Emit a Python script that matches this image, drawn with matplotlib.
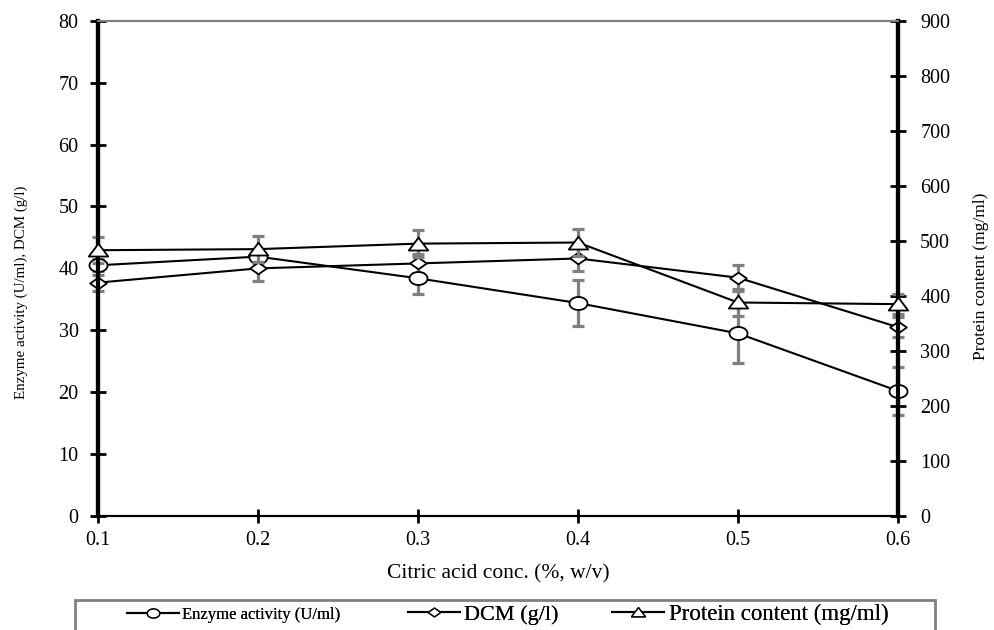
import matplotlib
matplotlib.use("Agg")
import matplotlib.pyplot as plt
from matplotlib.lines import Line2D
from matplotlib.patches import Rectangle
from matplotlib.path import Path
import numpy as np

plt.rcParams['font.family'] = ['Liberation Serif', 'DejaVu Serif']

citric = [0.1, 0.2, 0.3, 0.4, 0.5, 0.6]
enzyme = [40.5, 41.9, 38.4, 34.4, 29.5, 20.2]
enzyme_err = [1.0, 1.0, 2.6, 3.7, 4.8, 3.9]
dcm = [37.7, 40.0, 40.8, 41.6, 38.5, 30.5]
dcm_err = [1.3, 2.1, 1.5, 2.0, 2.1, 1.6]
protein = [483, 485, 495, 497, 388, 385]
protein_err = [24, 24, 25, 24, 24, 18]

x_ticks = [0.1, 0.2, 0.3, 0.4, 0.5, 0.6]
left_ticks = np.arange(0, 81, 10)
right_ticks = np.arange(0, 901, 100)
labels = ["Enzyme activity (U/ml)", "DCM (g/l)", "Protein content (mg/ml)"]

# the source figure is stretched sideways, so the markers are wider than tall
t = np.linspace(0, 2 * np.pi, 60)
ellipse = Path(np.column_stack([np.cos(t), 0.72 * np.sin(t)]))
diamond = Path([(0, 0.7), (1, 0), (0, -0.7), (-1, 0), (0, 0.7)], closed=True)
triangle = Path([(-1, -0.62), (1, -0.62), (0, 0.7), (-1, -0.62)], closed=True)

err_col = "#808080"
fig = plt.figure(figsize=(9.95, 6.3), dpi=100)
ax = fig.add_axes([0.0985, 0.181, 0.804, 0.786])
ax2 = ax.twinx()

eb = dict(fmt="none", ecolor=err_col, elinewidth=2.3, capsize=4.5, capthick=2.3, clip_on=False)
ax.errorbar(citric, enzyme, yerr=enzyme_err, **eb)
ax.errorbar(citric, dcm, yerr=dcm_err, **eb)
ax2.errorbar(citric, protein, yerr=protein_err, **eb)

ln = dict(color="black", lw=1.5, mfc="white", mec="black", mew=1.3, clip_on=False, zorder=5)
ax.plot(citric, enzyme, marker=ellipse, ms=13, **ln)
ax.plot(citric, dcm, marker=diamond, ms=12, **ln)
ax2.plot(citric, protein, marker=triangle, ms=14, **ln)

ax.set_xlim(0.1, 0.6)
ax.set_ylim(0, 80)
ax2.set_ylim(0, 900)
ax.set_xticks(x_ticks)
ax.set_xticklabels([f"{v:.1f}" for v in x_ticks])
ax.set_yticks(left_ticks)
ax2.set_yticks(right_ticks)

for a in (ax, ax2):
    a.spines["top"].set_color("#808080")
    a.spines["top"].set_linewidth(1.5)
    a.spines["bottom"].set_linewidth(1.5)
    a.spines["left"].set_linewidth(3)
    a.spines["right"].set_linewidth(3)

ax.tick_params(axis="y", direction="inout", length=12, width=2, labelsize=14.5, pad=8)
ax2.tick_params(axis="y", direction="inout", length=12, width=2, labelsize=14.5, pad=10)
ax.tick_params(axis="x", direction="inout", length=10, width=2, labelsize=14.5, pad=6)

ax.set_xlabel("Citric acid conc. (%, w/v)", fontsize=15.5, labelpad=10)
ax.set_ylabel("Enzyme activity (U/ml), DCM (g/l)", fontsize=10.8)
ax2.set_ylabel("Protein content (mg/ml)", fontsize=12.5)
ax.yaxis.set_label_coords(-0.0875, 0.452)
ax2.yaxis.set_label_coords(1.094, 0.484)

# legend box at the bottom, cut off by the figure edge like in the source
handles = [
    Line2D([], [], color="black", lw=1.5, marker=ellipse, ms=9, mfc="white", mec="black"),
    Line2D([], [], color="black", lw=1.5, marker=diamond, ms=9, mfc="white", mec="black"),
    Line2D([], [], color="black", lw=1.5, marker=triangle, ms=10, mfc="white", mec="black"),
]
leg_x = [127, 408, 612]
leg_size = [12, 16, 16.5]
for h, lab, lx, fs in zip(handles, labels, leg_x, leg_size):
    leg = fig.legend([h], [lab], loc="center left", bbox_to_anchor=(lx / 995, 0.024),
                     frameon=False, fontsize=fs, borderpad=0, borderaxespad=0,
                     handlelength=52 / (fs * 100 / 72), handletextpad=0.2)
    fig.add_artist(leg)

fig.patches.append(Rectangle((75 / 995, -0.05), 860 / 995, 0.05 + 30 / 630, transform=fig.transFigure,
                             fill=False, edgecolor="#808080", lw=2))

fig.savefig("out.png", dpi=100)
